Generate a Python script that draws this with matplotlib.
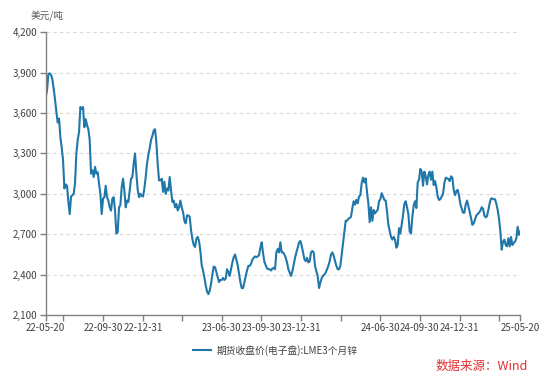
import matplotlib
matplotlib.use('Agg')
import matplotlib.pyplot as plt
from matplotlib.ticker import FuncFormatter
import pandas as pd

plt.rcParams['font.family'] = ['Noto Sans CJK SC', 'DejaVu Sans']

# LME 3-month zinc, USD/t (about every 3 days)
price = [
    # 2022-05 .. 2022-11
    3720, 3770, 3890, 3895, 3885, 3850, 3780, 3700, 3610, 3530,
    3560, 3420, 3345, 3250, 3040, 3070, 3060, 2940, 2850, 2980,
    2990, 3000, 3080, 3300, 3400, 3460, 3645, 3630, 3645, 3495,
    3555, 3510, 3480, 3400, 3150, 3175, 3125, 3200, 3150, 3160,
    3075, 3000, 2850, 2965, 2975, 3060, 2975, 2950, 2900, 2875,
    2965, 2975, 2875, 2705, 2715, 2900, 2915,
    # 2022-11 .. 2023-05
    3050, 3112, 3025, 2900, 2950, 2940, 3025, 3112, 3125, 3225,
    3300, 3150, 3030, 2975, 3000, 2985, 2980, 3040, 3125, 3225,
    3290, 3340, 3400, 3430, 3470, 3480, 3380, 3220, 3100, 3100,
    3112, 3015, 3090, 3000, 3040, 3025, 3125, 3025, 2940, 2950,
    2900, 2925, 2877, 2900, 2950, 2900, 2865, 2800, 2780, 2840,
    2840, 2830, 2730, 2665, 2620, 2605, 2665, 2680, 2650, 2575,
    # 2023-05 .. 2023-11
    2470, 2430, 2380, 2320, 2275, 2255, 2280, 2330, 2400, 2460,
    2455, 2420, 2380, 2345, 2360, 2360, 2375, 2360, 2370, 2440,
    2420, 2390, 2440, 2490, 2530, 2550, 2510, 2470, 2410, 2345,
    2300, 2300, 2340, 2390, 2430, 2465, 2465, 2480, 2510, 2525,
    2535, 2530, 2535, 2545, 2600, 2640, 2560, 2495, 2470, 2445,
    2440, 2440, 2430, 2445, 2450, 2440,
    # 2023-11 .. 2024-04
    2565, 2590, 2565, 2640, 2565, 2565, 2550, 2525, 2490, 2440,
    2415, 2390, 2425, 2475, 2525, 2565, 2600, 2640, 2650, 2615,
    2565, 2515, 2500, 2525, 2490, 2500, 2565, 2575, 2565, 2465,
    2425, 2390, 2300, 2340, 2375, 2390, 2400, 2415, 2440, 2465,
    2500, 2550, 2565, 2540, 2500, 2465, 2440, 2440, 2465, 2550,
    2640, 2720, 2800, 2800, 2815, 2820,
    # 2024-04 .. 2024-11
    2830, 2895, 2945, 2920, 2955, 2930, 2980, 2990, 3080, 3120,
    3085, 3115, 3010, 2930, 2790, 2900, 2800, 2880, 2855, 2870,
    2880, 2945, 2960, 3005, 2980, 2955, 2950, 2870, 2770, 2725,
    2680, 2660, 2680, 2660, 2600, 2620, 2745, 2705, 2770, 2840,
    2925, 2945, 2900, 2850, 2720, 2705, 2830, 2915, 2945, 2895,
    3085, 3105, 3185, 3165, 3060, 3165, 3130, 3070, 3140, 3165,
    3105, 3165, 3065,
    # 2024-11 .. 2025-05
    3095, 3050, 2980, 2955, 2960, 2980, 3000, 3080, 3120, 3115,
    3110, 3095, 3130, 3120, 3030, 2990, 3020, 3030, 2985, 2925,
    2890, 2860, 2860, 2920, 2950, 2910, 2865, 2820, 2770, 2780,
    2810, 2840, 2850, 2860, 2875, 2900, 2890, 2840, 2825, 2835,
    2880, 2930, 2965, 2965, 2960, 2960, 2925, 2880, 2815, 2720,
    2585, 2645, 2660, 2620, 2610, 2670, 2610, 2680, 2620, 2635,
    2645, 2670, 2755, 2695, 2720,
]

start_date = '2022-05-20'
end_date = '2025-05-20'

tick_dates = ['2022-05-20', '2022-06-30', '2022-09-30', '2022-12-31',
              '2023-03-31', '2023-06-30', '2023-09-30', '2023-12-31',
              '2024-03-31', '2024-06-30', '2024-09-30', '2024-12-31',
              '2025-03-31', '2025-05-20']
tick_labels = ['22-05-20', '', '22-09-30', '22-12-31',
               '', '23-06-30', '23-09-30', '23-12-31',
               '', '24-06-30', '24-09-30', '24-12-31',
               '', '25-05-20']
y_ticks = [2100, 2400, 2700, 3000, 3300, 3600, 3900, 4200]

series_name = '期货收盘价(电子盘):LME3个月锌'
unit = '美元/吨'
source = '数据来源：Wind'

dates = pd.date_range(start_date, end_date, periods=len(price))

fig = plt.figure(figsize=(5.5, 3.82), dpi=100)
ax = fig.add_axes([0.0831, 0.1754, 0.8630, 0.7400])

line_color = '#1f77aa'
txt_color = '#404040'
axis_color = '#808080'

ax.plot(dates, price, color=line_color, lw=1.5, label=series_name)

ax.set_xlim(pd.Timestamp(start_date), pd.Timestamp(end_date))
ax.set_ylim(2100, 4200)
ax.set_yticks(y_ticks)
ax.yaxis.set_major_formatter(FuncFormatter(lambda v, p: f'{int(v):,}'))
ax.set_xticks(pd.to_datetime(tick_dates))
ax.set_xticklabels(tick_labels)

for v in y_ticks[1:]:
    ax.axhline(v, color='#d9d9d9', lw=0.8, ls=(0, (3, 3)), zorder=0)

for s in ['top', 'right']:
    ax.spines[s].set_visible(False)
for s in ['left', 'bottom']:
    ax.spines[s].set_color(axis_color)
    ax.spines[s].set_linewidth(1.0)

ax.tick_params(axis='both', colors=axis_color, labelcolor=txt_color,
               labelsize=7, length=4.5, width=1.0, pad=1.5)

fig.text(0.055, 0.958, unit, fontsize=7, color='#595959', ha='left', va='center')

fig.legend(loc='center', bbox_to_anchor=(0.5, 0.083), frameon=False,
           fontsize=7, handlelength=1.9, handletextpad=0.5,
           labelcolor=txt_color)

fig.text(0.96, 0.042, source, fontsize=9, color='#e03030', ha='right', va='center')

fig.savefig('out.png', dpi=100)
